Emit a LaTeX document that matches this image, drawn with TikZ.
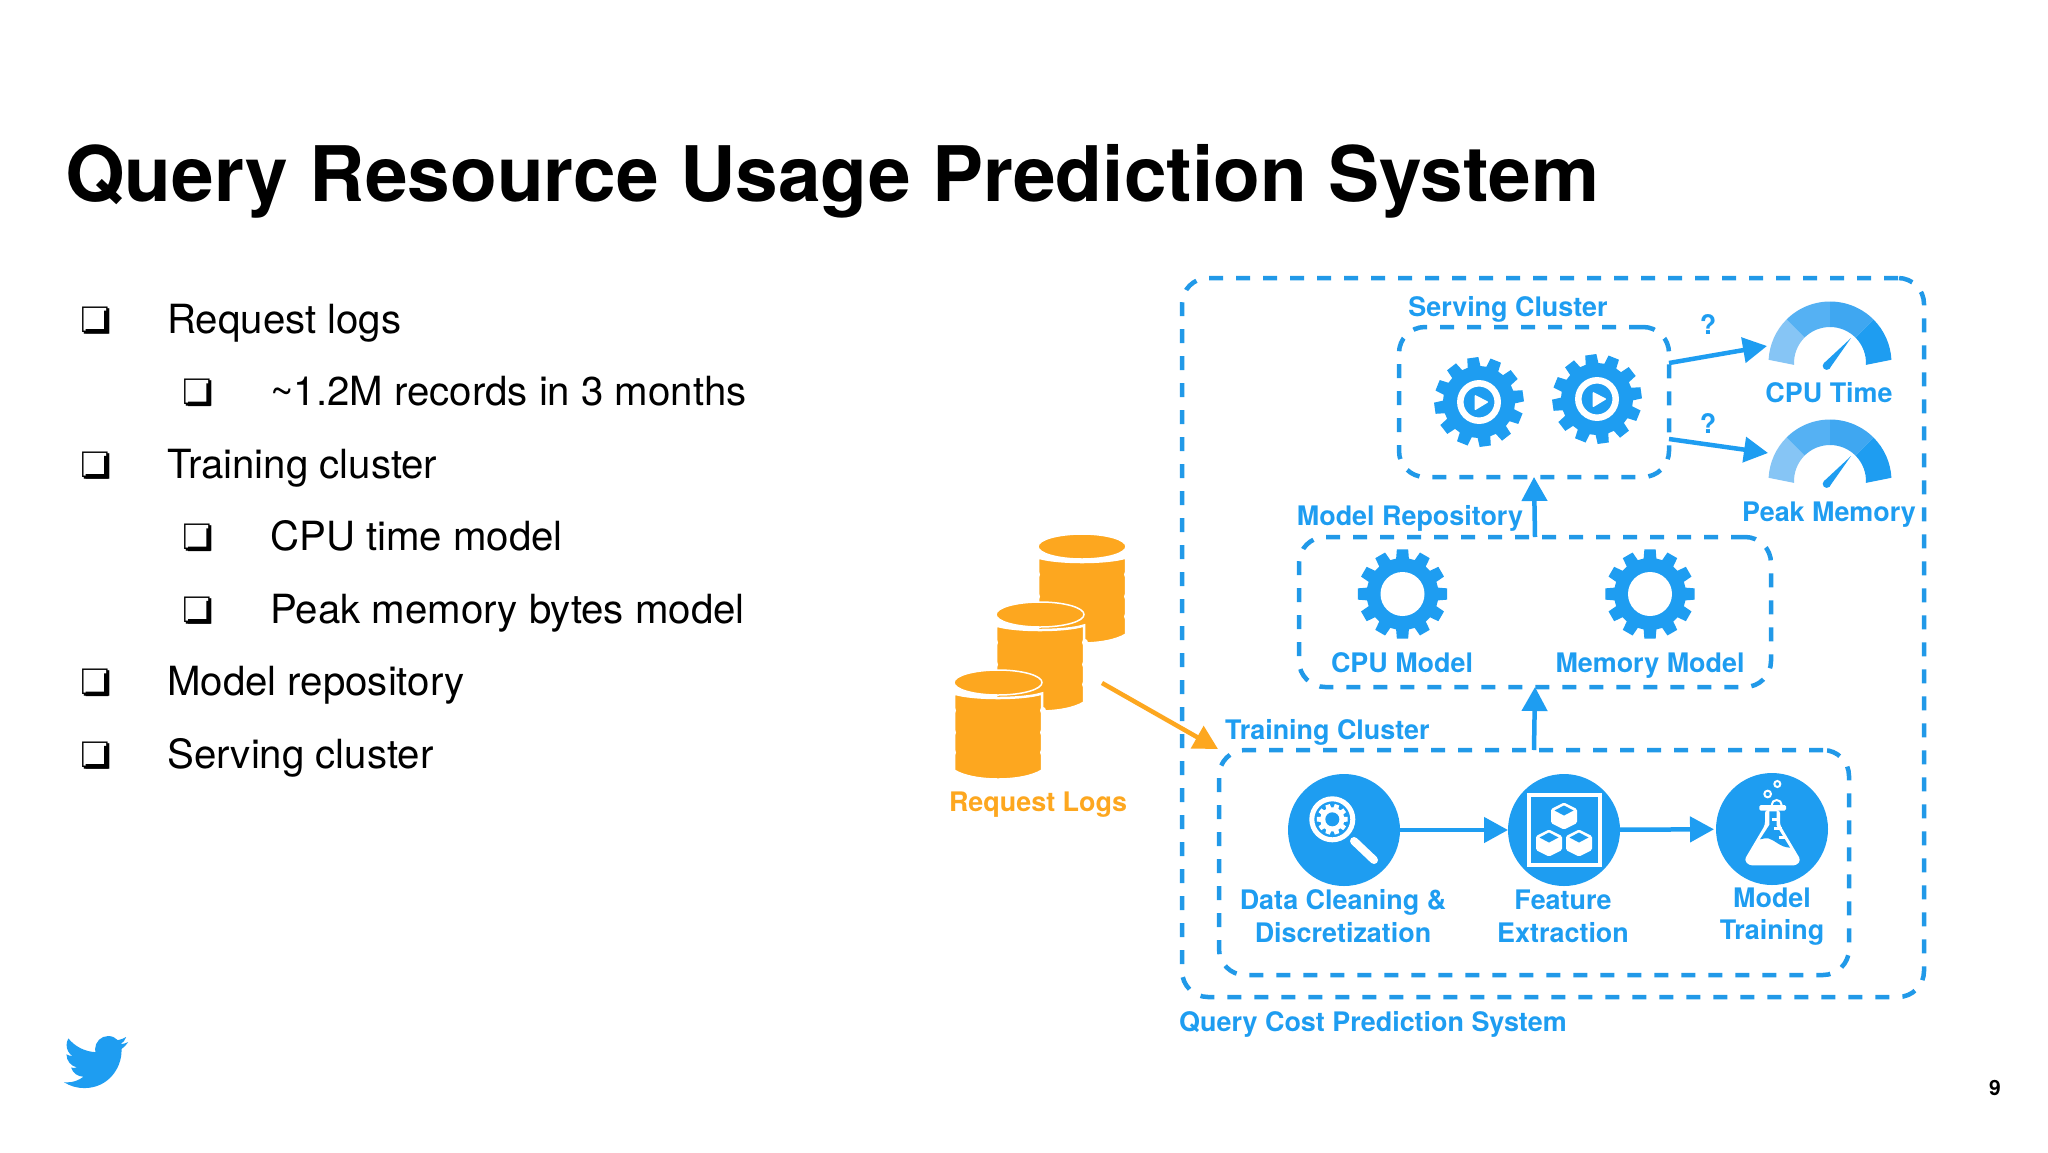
\documentclass[tikz,border=0pt]{standalone}
\usepackage{fontspec}
\setmainfont{TeX Gyre Heros}
\newfontfamily\djfont{DejaVu Sans}
\usetikzlibrary{arrows.meta}
\definecolor{tblue}{HTML}{1E9DF1}
\definecolor{dblue}{HTML}{2199E8}
\definecolor{torange}{HTML}{FDA71F}
\definecolor{gaugea}{HTML}{86C5F5}
\definecolor{gaugeb}{HTML}{55B1F3}
\definecolor{gaugec}{HTML}{3FA7F1}
\newcommand\fsz[1]{\fontsize{#1}{#1}\selectfont}
\tikzset{
  dbox/.style={draw=dblue,dash pattern=on 14pt off 13pt,line width=4.5pt,rounded corners=26pt,inner sep=0pt,outer sep=0pt},
  lbl/.style={text=tblue,font=\fsz{26.9}\bfseries,anchor=base,inner sep=0pt},
  lblw/.style={lbl,anchor=base west},
  orlbl/.style={lbl,text=torange},
  body/.style={font=\fsz{40.2},anchor=base west,inner sep=0pt,text=black},
  bul/.style={font=\djfont\fsz{35},anchor=center,inner sep=0pt,text=black},
  conn/.style={draw=tblue,line width=4.5pt,-{Triangle[length=24pt,width=25pt]}},
  orconn/.style={draw=torange,line width=4.5pt,-{Triangle[length=24pt,width=25pt]}},
  disc/.style={circle,fill=tblue,minimum size=112pt,inner sep=0pt,outer sep=0pt},
}
% teeth, tip radius, root radius, colour  (drawn in a local scope)
\newcommand\gearfill[4]{%
  \fill[#4] ({-.34*360/#1}:#3) \foreach \k in {0,...,\numexpr#1-1\relax}{
     -- ({(\k-.34)*360/#1}:#3) -- ({(\k-.24)*360/#1}:#2) -- ({(\k+.24)*360/#1}:#2) -- ({(\k+.34)*360/#1}:#3)
  } -- cycle;}
\newcommand\playgear[3]{%
  \begin{scope}[shift={(#1,#2)},yscale=-1]
    \begin{scope}[rotate=#3]\gearfill{12}{45}{36}{tblue}\end{scope}
    \draw[white,line width=6.5pt] (0,0) circle[radius=18.7];
    \fill[white,rounded corners=1pt] (-4.3,7.3) -- (9.7,0) -- (-4.3,-8.5) -- cycle;
  \end{scope}}
\newcommand\holegear[2]{%
  \begin{scope}[shift={(#1,#2)},yscale=-1]
    \begin{scope}[rotate=90]\gearfill{12}{45}{36}{tblue}\end{scope}
    \fill[white] (0,0) circle[radius=22];
  \end{scope}}
\newcommand\sector[5]{% colour, outer from, outer to, inner from, inner to
  \fill[#1] (#2:61.5) arc[start angle=#2,end angle=#3,radius=61.5] -- (#4:36) arc[start angle=#4,end angle=#5,radius=36] -- cycle;}
\newcommand\gaugeicon[2]{%
  \begin{scope}[shift={(#1,#2)},yscale=-1]
    \sector{gaugea}{177}{135}{135}{183}
    \sector{gaugeb}{135}{90}{90}{135}
    \sector{gaugec}{90}{45}{45}{90}
    \sector{tblue}{45}{3}{-3}{45}
    \fill[tblue] (21,25) -- (-.6,-5.7) -- (-6,-.1) -- cycle;
    \fill[tblue] (-3.3,-2.9) circle[radius=4];
  \end{scope}}
\newcommand\cylinder[2]{%
  \begin{scope}[shift={(#1,#2)}]
    \path[fill=torange,draw=white,line width=2.5pt]
      (-44,11) .. controls (-25,17) and (25,17) .. (44,11) -- (44,88)
      .. controls (25,100) and (-25,100) .. (-44,88) -- cycle;
    \foreach \v in {28,50,70}{
      \fill[white] (-45,\v) ellipse[x radius=3,y radius=3.5];
      \fill[white] (45,\v) ellipse[x radius=3,y radius=3.5];}
    \path[fill=torange,draw=white,line width=1.5pt] (0,0) ellipse[x radius=44,y radius=12.5];
  \end{scope}}
\newcommand\hexcube[2]{%
  \begin{scope}[shift={(#1,#2)}]
    \fill[white,rounded corners=1.5pt] (0,-13.5) -- (13,-7) -- (13,7) -- (0,13.5) -- (-13,7) -- (-13,-7) -- cycle;
    \fill[tblue] (0,-10.5) -- (9.5,-5.5) -- (0,-.5) -- (-9.5,-5.5) -- cycle;
  \end{scope}}
% heavy drop shadow of a bullet whose white square starts at (#1,#2)
\newcommand\bulshadow[2]{%
  \fill[black,shift={(#1,#2)}] (22.3,4.7) -- (26.6,4.7) -- (26.6,27.3) -- (4,27.3) -- (4,23) -- (22.3,23) -- cycle;}
\begin{document}
\begin{tikzpicture}[x=1pt,y=-1pt]
\useasboundingbox (0,0) rectangle (2048,1152);
\fill[white] (0,0) rectangle (2048,1152);

% title
\node[font=\fsz{76.6}\bfseries,anchor=base west,inner sep=0pt,text=black] (title) at (65,201) {Query Resource Usage Prediction System};

% bullets and text
\node[bul] (b1) at (95.7,320.5) {❏}; \bulshadow{81.7}{306}
\node[body] (t1) at (167,333) {Request logs};
\node[bul] (b2) at (198,393) {❏}; \bulshadow{184}{378.7}
\node[body] (t2) at (270,405.5) {\textasciitilde1.2M records in 3 months};
\node[bul] (b3) at (95.7,465.5) {❏}; \bulshadow{81.7}{451.2}
\node[body] (t3) at (167,478) {Training cluster};
\node[bul] (b4) at (198,538) {❏}; \bulshadow{184}{523.7}
\node[body] (t4) at (270,550.5) {CPU time model};
\node[bul] (b5) at (198,610.5) {❏}; \bulshadow{184}{596.2}
\node[body] (t5) at (270,623) {Peak memory bytes model};
\node[bul] (b6) at (95.7,683) {❏}; \bulshadow{81.7}{668.7}
\node[body] (t6) at (167,695.5) {Model repository};
\node[bul] (b7) at (95.7,755.5) {❏}; \bulshadow{81.7}{741.2}
\node[body] (t7) at (167,768) {Serving cluster};

% twitter bird
\begin{scope}[shift={(64,1030)},x=2.67pt,y=-2.67pt]
\fill[tblue] (23.953,4.57) .. controls (23.07,4.96) and (22.12,5.23) .. (21.128,5.345)
 .. controls (22.14,4.73) and (22.93,3.77) .. (23.291,2.622)
 .. controls (22.34,3.177) and (21.286,3.581) .. (20.164,3.806)
 .. controls (19.27,2.85) and (18,2.25) .. (16.57,2.25)
 .. controls (13.85,2.25) and (11.65,4.45) .. (11.65,7.17)
 .. controls (11.65,7.55) and (11.69,7.93) .. (11.78,8.288)
 .. controls (7.69,8.095) and (4.067,6.13) .. (1.64,3.162)
 .. controls (1.22,3.88) and (.974,4.73) .. (.974,5.637)
 .. controls (.974,7.347) and (1.844,8.85) .. (3.162,9.733)
 .. controls (2.35,9.71) and (1.58,9.48) .. (.934,9.117)
 -- (.934,9.177)
 .. controls (.934,11.56) and (2.63,13.55) .. (4.88,14.004)
 .. controls (4.17,14.2) and (3.42,14.23) .. (2.668,14.089)
 .. controls (3.29,16.03) and (5.09,17.46) .. (7.272,17.506)
 .. controls (5.58,18.83) and (3.47,19.611) .. (1.17,19.611)
 .. controls (.78,19.611) and (.391,19.588) .. (0,19.544)
 .. controls (2.18,20.94) and (4.77,21.753) .. (7.557,21.753)
 .. controls (16.61,21.753) and (21.555,14.257) .. (21.555,7.768)
 .. controls (21.555,7.558) and (21.555,7.348) .. (21.54,7.138)
 .. controls (22.5,6.44) and (23.33,5.58) .. (24,4.59) -- cycle;
\end{scope}
\node[font=\fsz{21}\bfseries,anchor=base,inner sep=0pt,text=black] (page) at (1995,1095) {9};

% request logs
\cylinder{1082}{546.5}
\cylinder{1040}{614.5}
\cylinder{998}{682.5}
\node[orlbl] (logs) at (1038,811) {Request Logs};

% dashed boxes
\node[dbox,minimum width=742pt,minimum height=719pt] (outer) at (1553,637.5) {};
\node[dbox,minimum width=270pt,minimum height=150pt] (serving) at (1534,402) {};
\node[dbox,minimum width=472pt,minimum height=150pt] (repo) at (1535,612) {};
\node[dbox,minimum width=630pt,minimum height=225pt] (training) at (1534,862.5) {};

% box labels
\node[lbl] (lserv) at (1508,316) {Serving Cluster};
\node[lbl] (lrepo) at (1410,525) {Model Repository};
\node[lblw] (ltrain) at (1225,739) {Training Cluster};
\node[lblw] (lsys) at (1179,1031) {Query Cost Prediction System};

% serving gears
\playgear{1479}{402}{82}
\playgear{1597}{399}{82}

% gauges
\gaugeicon{1830}{363}
\gaugeicon{1830}{481}
\node[lbl] (lcpu) at (1829,402) {CPU Time};
\node[lbl] (lpeak) at (1829,521) {Peak Memory};
\node[lbl] (q1) at (1708,334) {?};
\node[lbl] (q2) at (1708,433) {?};
\coordinate (cpuin) at (1767,346);
\coordinate (peakin) at (1768,453);
\coordinate (servout1) at (1669,363);
\coordinate (servout2) at (1669,439);
\draw[conn] (servout1) -- (cpuin);
\draw[conn] (servout2) -- (peakin);

% model gears
\holegear{1402.5}{594}
\holegear{1650}{594}
\node[lbl] (lcpum) at (1402,672) {CPU Model};
\node[lbl] (lmemm) at (1650,672) {Memory Model};

% vertical connectors
\draw[conn] (repo.north) -- (serving.south);
\draw[conn] (training.north) -- (repo.south);

% orange connector
\coordinate (logsout) at (1102,683);
\coordinate (trainin) at (1218,749);
\draw[orconn] (logsout) -- (trainin);

% training stages
\node[disc] (clean) at (1344,830) {};
\node[disc] (feat) at (1564,830) {};
\node[disc] (train) at (1772,829) {};
\draw[conn] (clean) -- (feat);
\draw[conn,shorten >=2pt] (feat) -- (train);
\node[lbl] (c1) at (1343,909) {Data Cleaning \&};
\node[lbl] (c2) at (1343,942) {Discretization};
\node[lbl] (f1) at (1563,909) {Feature};
\node[lbl] (f2) at (1563,942) {Extraction};
\node[lbl] (m1) at (1772,907) {Model};
\node[lbl] (m2) at (1772,939) {Training};

% magnifier
\draw[white,line width=5pt] (1332.3,819.3) circle[radius=20.5];
\draw[white,line width=8pt,line cap=round] (1354,841) -- (1374,860);
\begin{scope}[shift={(1332.3,819.3)},yscale=-1]
  \gearfill{10}{15.5}{12}{white}
  \fill[tblue] (0,0) circle[radius=7];
\end{scope}

% feature icon
\draw[white,line width=4pt] (1528.7,794.7) rectangle (1600,865);
\hexcube{1564}{816}
\hexcube{1549}{843}
\hexcube{1579}{843}

% flask
\begin{scope}[shift={(1700,760)},x=.3333pt,y=-.3333pt]
  \fill[white,rounded corners=1.5pt] (178,135) -- (258,135) -- (258,152) -- (178,152) -- cycle;
  \fill[white,rounded corners=3pt] (195,150) -- (240,150) -- (240,195) -- (302,300) -- (290,316) -- (147,316) -- (133,300) -- (195,195) -- cycle;
  \fill[tblue] (208,154) -- (230,154) -- (230,198) -- (270,263)
     .. controls (240,262) and (225,240) .. (205,235) .. controls (195,232) and (190,238) .. (180,238)
     -- (208,195) -- cycle;
  \draw[white,line width=2.5pt] (216,178) -- (232,178) (222,205) -- (245,205) (236,232) -- (256,232);
  \draw[white,line width=2pt] (203,102) circle[radius=10] (232,72) circle[radius=9];
  \draw[white,line width=2pt] (215,135) arc[start angle=180,end angle=360,radius=15];
\end{scope}
\end{tikzpicture}
\end{document}
